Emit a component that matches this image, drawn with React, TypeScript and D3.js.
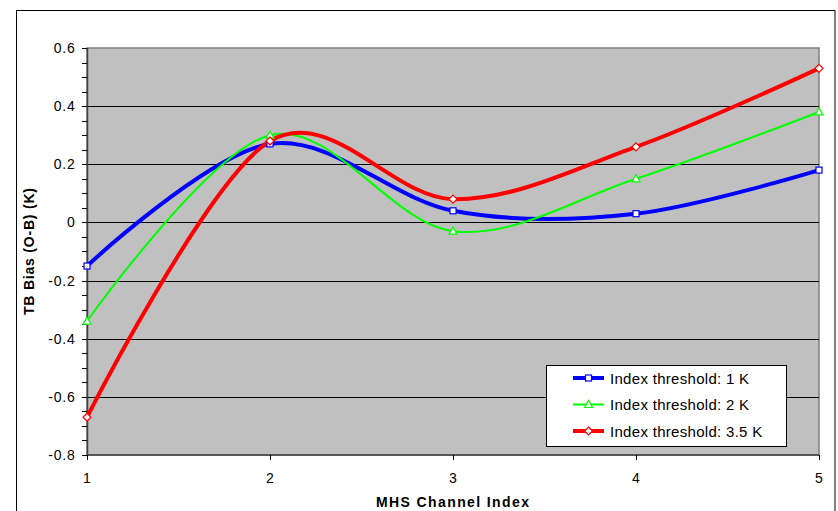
import React from "react";
import * as d3 from "d3";

const channels = [1, 2, 3, 4, 5];
const bias1K = [-0.15, 0.27, 0.04, 0.03, 0.18];
const bias2K = [-0.34, 0.30, -0.03, 0.15, 0.38];
const bias35K = [-0.67, 0.28, 0.08, 0.26, 0.53];
const seriesNames = ["Index threshold: 1 K", "Index threshold: 2 K", "Index threshold: 3.5 K"];
const yTicks = [0.6, 0.4, 0.2, 0, -0.2, -0.4, -0.6, -0.8];
const yTickLabels = ["0.6", "0.4", "0.2", "0", "-0.2", "-0.4", "-0.6", "-0.8"];
const xTickLabels = ["1", "2", "3", "4", "5"];

const W = 838, H = 511;
const plot = { left: 87, top: 48, right: 819, bottom: 455 };
const FONT = "'Liberation Sans', Arial, sans-serif";

export default function App() {
  const x = d3.scaleLinear().domain([1, 5]).range([plot.left, plot.right]);
  const y = d3.scaleLinear().domain([-0.8, 0.6]).range([plot.bottom, plot.top]);
  const line = d3
    .line<[number, number]>()
    .x((d) => x(d[0]))
    .y((d) => y(d[1]))
    .curve(d3.curveCardinal.tension(0));

  const series = [
    { name: seriesNames[0], values: bias1K, color: "#0000FF", width: 4, marker: "square" },
    { name: seriesNames[1], values: bias2K, color: "#00FF00", width: 2, marker: "triangle" },
    { name: seriesNames[2], values: bias35K, color: "#FF0000", width: 4, marker: "diamond" },
  ];

  const marker = (type: string, cx: number, cy: number, color: string, key: any) => {
    if (type === "square")
      return <rect key={key} x={cx - 3} y={cy - 3} width={6} height={6} fill="#fff" stroke={color} strokeWidth={1.2} />;
    if (type === "triangle")
      return (
        <path key={key} d={`M${cx},${cy - 4}L${cx + 4},${cy + 3}L${cx - 4},${cy + 3}Z`} fill="#fff" stroke={color} strokeWidth={1.2} />
      );
    return (
      <path key={key} d={`M${cx},${cy - 4}L${cx + 4},${cy}L${cx},${cy + 4}L${cx - 4},${cy}Z`} fill="#fff" stroke={color} strokeWidth={1.2} />
    );
  };

  const minorTicks = d3.range(-0.8, 0.6001, 0.05).map((v) => Math.round(v * 100) / 100);

  const legend = { x: 546, y: 365, w: 240, h: 81 };
  const legendRows = [378, 404.5, 431];

  return (
    <svg
      width={W}
      height={H}
      style={{ position: "absolute", left: 0, top: 0, background: "#fff" }}
      fontFamily={FONT}
    >
      <rect x={0} y={0} width={W} height={H} fill="#fff" />
      <rect x={16.5} y={10.5} width={818.5} height={520} fill="#fff" stroke="#000" strokeWidth={1} />
      <rect
        x={plot.left}
        y={plot.top}
        width={plot.right - plot.left}
        height={plot.bottom - plot.top}
        fill="#C0C0C0"
        stroke="#808080"
        strokeWidth={1.5}
      />
      {yTicks
        .filter((v) => v !== 0.6 && v !== -0.8)
        .map((v) => (
          <line key={"g" + v} x1={plot.left} x2={plot.right} y1={Math.round(y(v)) + 0.5} y2={Math.round(y(v)) + 0.5} stroke="#000" strokeWidth={1} />
        ))}
      <line x1={plot.left + 0.5} x2={plot.left + 0.5} y1={plot.top} y2={plot.bottom} stroke="#404040" strokeWidth={1.5} />
      <line x1={plot.left} x2={plot.right} y1={plot.bottom} y2={plot.bottom} stroke="#404040" strokeWidth={1.5} />
      {minorTicks.map((v) => (
        <line key={"t" + v} x1={plot.left - 5} x2={plot.left} y1={Math.round(y(v)) + 0.5} y2={Math.round(y(v)) + 0.5} stroke="#000" strokeWidth={1} />
      ))}
      {yTicks.map((v, i) => (
        <text key={"yl" + v} x={75.5} y={y(v) + 5} textAnchor="end" fontSize={14} letterSpacing={0.8} fill="#000">
          {yTickLabels[i]}
        </text>
      ))}
      {channels.map((c, i) => (
        <g key={"xt" + c}>
          <line x1={Math.round(x(c)) + 0.5} x2={Math.round(x(c)) + 0.5} y1={plot.bottom} y2={plot.bottom + 5} stroke="#000" strokeWidth={1} />
          <text x={x(c)} y={483} textAnchor="middle" fontSize={14} fill="#000">
            {xTickLabels[i]}
          </text>
        </g>
      ))}
      {series.map((s) => (
        <path
          key={"l" + s.name}
          d={line(channels.map((c, i) => [c, s.values[i]] as [number, number])) || ""}
          fill="none"
          stroke={s.color}
          strokeWidth={s.width}
          strokeLinejoin="round"
        />
      ))}
      {series.map((s) => channels.map((c, i) => marker(s.marker, x(c), y(s.values[i]), s.color, s.name + c)))}
      <text
        x={452.5}
        y={507}
        textAnchor="middle"
        fontSize={14}
        fontWeight="bold"
        textLength={153}
        lengthAdjust="spacing"
        fill="#000"
      >
        MHS Channel Index
      </text>
      <text
        transform={`translate(34,251.5) rotate(-90)`}
        textAnchor="middle"
        fontSize={14}
        fontWeight="bold"
        textLength={127}
        lengthAdjust="spacing"
        fill="#000"
      >
        TB Bias (O-B) (K)
      </text>
      <rect x={legend.x + 0.5} y={legend.y + 0.5} width={legend.w} height={legend.h} fill="#fff" stroke="#000" strokeWidth={1} />
      {series.map((s, i) => (
        <g key={"lg" + s.name}>
          <line x1={573} x2={604} y1={legendRows[i]} y2={legendRows[i]} stroke={s.color} strokeWidth={s.width} />
          {marker(s.marker, 588.5, legendRows[i], s.color, "lm" + i)}
          <text x={610} y={legendRows[i] + 5.5} fontSize={15} letterSpacing={0.3} fill="#000">
            {s.name}
          </text>
        </g>
      ))}
    </svg>
  );
}
